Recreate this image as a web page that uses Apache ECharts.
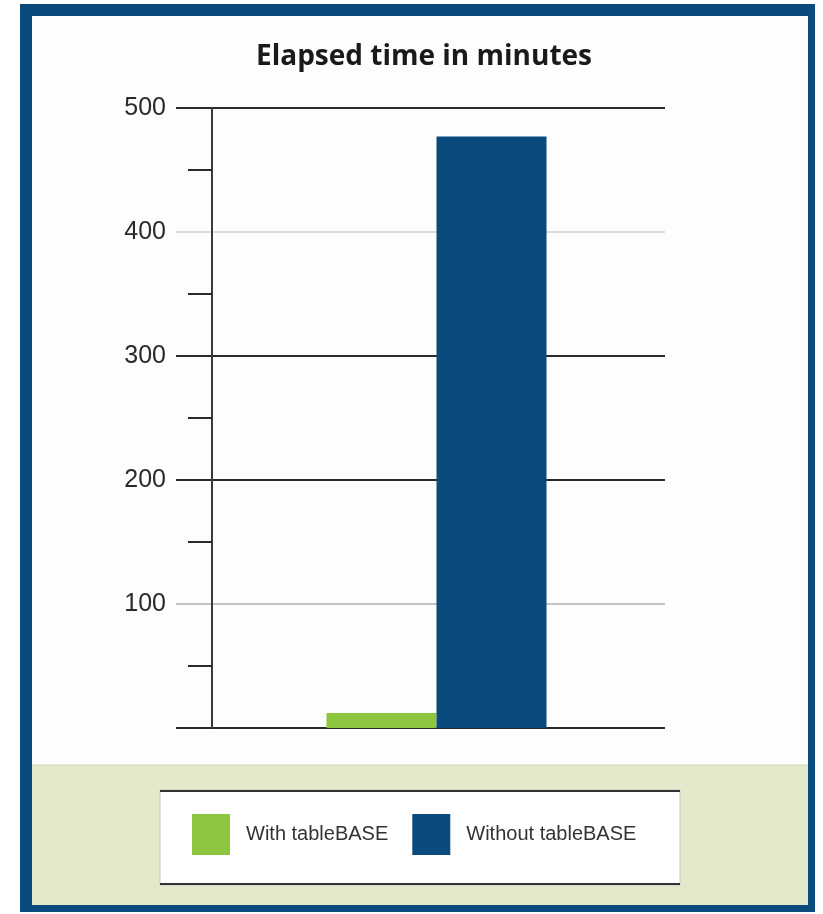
<!DOCTYPE html>
<html>
<head>
<meta charset="utf-8">
<script src="https://cdn.jsdelivr.net/npm/echarts@6/dist/echarts.min.js"></script>
<style>
	html, body { margin: 0; padding: 0; background: #ffffff; }
	#chart { width: 823px; height: 914px; }
</style>
</head>
<body>
<div id="chart"></div>
<script>
(function() {
	var categories = ["Elapsed time"];
	var seriesNames = ["With tableBASE", "Without tableBASE"];
	var withValues = [12];
	var withoutValues = [477];
	var yTicks = [0, 100, 200, 300, 400, 500];
	var myColor = ["#8cc63f", "#0b4a7c"];

	var myChart = echarts.init(document.getElementById("chart"));

	var option = {
		animation: false,
		color: myColor,
		title: {
			text: "Elapsed time in minutes",
			left: 419,
			top: 38,
			textAlign: "center",
			textStyle: {
				fontFamily: "Open Sans",
				fontWeight: "bold",
				fontSize: 28,
				color: "#1a1a1a"
			}
		},
		graphic: [
			// outer frame
			{ type: "rect", z: -10, shape: { x: 20, y: 4, width: 795, height: 908 }, style: { fill: "#0b4a7c" } },
			{ type: "rect", z: -9, shape: { x: 32, y: 16, width: 776, height: 889 }, style: { fill: "#fdfdfb" } },
			{ type: "rect", z: -8, shape: { x: 32, y: 765, width: 776, height: 140 }, style: { fill: "#e3eacb" } },
			{ type: "line", z: -8, shape: { x1: 32, y1: 765, x2: 808, y2: 765 }, style: { stroke: "#cfd9b0", lineWidth: 1 } },
			// legend box
			{ type: "rect", z: -7, shape: { x: 160, y: 790, width: 520, height: 95 }, style: { fill: "#ffffff", stroke: "#c8c8c8", lineWidth: 1 } },
			{ type: "line", z: -6, shape: { x1: 160, y1: 791, x2: 680, y2: 791 }, style: { stroke: "#333333", lineWidth: 2 } },
			{ type: "line", z: -6, shape: { x1: 160, y1: 884, x2: 680, y2: 884 }, style: { stroke: "#333333", lineWidth: 2 } }
		],
		legend: {
			data: seriesNames,
			left: 187,
			top: 809,
			icon: "rect",
			itemWidth: 38,
			itemHeight: 41,
			itemGap: 24,
			textStyle: {
				fontFamily: "Liberation Sans",
				fontSize: 20,
				color: "#333333",
				padding: [0, 0, 0, 11]
			}
		},
		grid: [
			{ left: 176, right: 158, top: 108, bottom: 186 },
			{ left: 212, right: 162, top: 108, bottom: 186 }
		],
		xAxis: [
			{ type: "category", gridIndex: 0, data: categories, show: false },
			{
				type: "category",
				gridIndex: 1,
				data: categories,
				axisLine: { show: false },
				axisTick: { show: false },
				axisLabel: { show: false }
			}
		],
		yAxis: [
			{
				type: "value",
				gridIndex: 0,
				min: yTicks[0],
				max: yTicks[yTicks.length - 1],
				interval: 100,
				axisLine: { show: false },
				axisTick: { show: false },
				axisLabel: {
					margin: 10,
					fontFamily: "Liberation Sans",
					fontSize: 25,
					color: "#2a2a2a",
					formatter: function(v) { return v === 0 ? "" : v; }
				},
				splitLine: {
					show: true,
					lineStyle: {
						width: 2,
						color: ["#2a2a2a", "#c4c4c4", "#2a2a2a", "#2a2a2a", "#dcdcdc", "#2a2a2a"]
					}
				}
			},
			{
				type: "value",
				gridIndex: 1,
				min: yTicks[0],
				max: yTicks[yTicks.length - 1],
				interval: 100,
				axisLine: { show: true, lineStyle: { color: "#3a3a3a", width: 2 } },
				axisTick: { show: false },
				minorTick: { show: true, splitNumber: 2, length: 24, lineStyle: { color: "#2a2a2a", width: 2 } },
				axisLabel: { show: false },
				splitLine: { show: false }
			}
		],
		series: [
			{
				name: seriesNames[0],
				type: "bar",
				xAxisIndex: 1,
				yAxisIndex: 1,
				data: withValues,
				barWidth: 110,
				barGap: "0%",
				itemStyle: { color: myColor[0] }
			},
			{
				name: seriesNames[1],
				type: "bar",
				xAxisIndex: 1,
				yAxisIndex: 1,
				data: withoutValues,
				barWidth: 110,
				barGap: "0%",
				itemStyle: { color: myColor[1] }
			}
		]
	};

	myChart.setOption(option);

	window.addEventListener("resize", function() {
		myChart.resize();
	});
})();
</script>
</body>
</html>
